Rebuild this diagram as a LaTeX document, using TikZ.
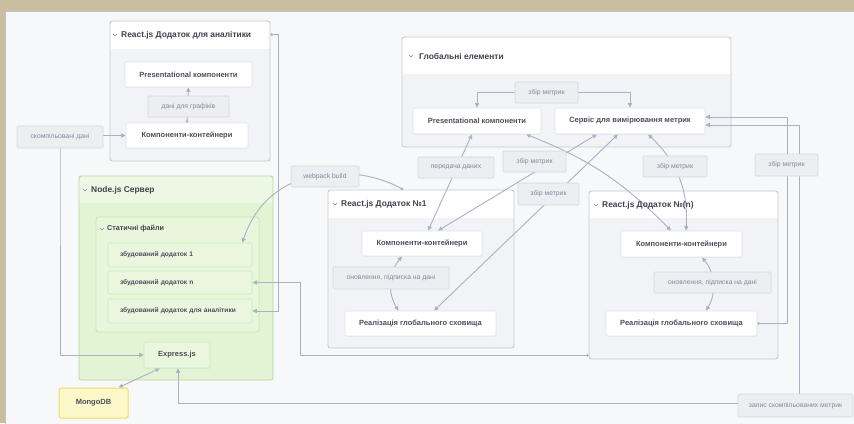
\documentclass[tikz,border=0pt]{standalone}
\usepackage{fontspec}
\setmainfont{Liberation Sans}
\usetikzlibrary{arrows.meta,fit,calc,shadows}
\definecolor{beige}{HTML}{CBBD9F}
\definecolor{panel}{HTML}{F7F8FA}
\definecolor{panelborder}{HTML}{BFC3C9}
\definecolor{grpborder}{HTML}{C5C9D0}
\definecolor{grpbody}{HTML}{F2F3F6}
\definecolor{grnborder}{HTML}{B5DB97}
\definecolor{grnbody}{HTML}{E3F4D4}
\definecolor{grnhead}{HTML}{ECF8E3}
\definecolor{grntwoborder}{HTML}{C8E5B0}
\definecolor{grntwobody}{HTML}{E8F6DC}
\definecolor{grnbox}{HTML}{EAF7DF}
\definecolor{grnboxborder}{HTML}{CFE8BB}
\definecolor{monfill}{HTML}{FDF8C9}
\definecolor{monborder}{HTML}{EEDC6E}
\definecolor{boxborder}{HTML}{E1E4E9}
\definecolor{lblfill}{HTML}{ECEEF2}
\definecolor{lblborder}{HTML}{D4D7DE}
\definecolor{lbltext}{HTML}{838998}
\definecolor{nodetext}{HTML}{4A4F5B}
\definecolor{titletext}{HTML}{3E434D}
\definecolor{edgec}{HTML}{A9B1C5}
\pgfdeclarelayer{bg}
\pgfdeclarelayer{edgelayer}
\pgfsetlayers{bg,edgelayer,main}
\tikzset{
 grpframe/.style={draw=#1, line width=0.9pt, rounded corners=2.5pt, inner sep=0pt},
 softshadow/.style={drop shadow={opacity=0.08, shadow xshift=0.4pt, shadow yshift=-0.9pt}},
 box/.style={draw=boxborder, fill=white, line width=0.6pt, rounded corners=1.5pt, inner sep=0pt, text=nodetext, font=\fontsize{7.5}{9}\selectfont\bfseries, softshadow},
 gbox/.style={draw=grnboxborder, fill=grnbox, line width=0.6pt, rounded corners=1.5pt, inner ysep=0pt, inner xsep=12pt, text width=120pt, align=left, text=nodetext, font=\fontsize{6.6}{8}\selectfont\bfseries},
 lbl/.style={draw=lblborder, fill=lblfill, line width=0.6pt, rounded corners=1pt, inner sep=0pt, text=lbltext, font=\fontsize{6.8}{8}\selectfont},
 gtitle/.style={anchor=west, inner sep=0pt, text=titletext, font=\fontsize{8.4}{10}\selectfont\bfseries},
 chevron/.style={draw=lbltext, line width=0.5pt},
 conn/.style={draw=edgec, line width=0.9pt, -{Triangle[length=4.5pt,width=4pt]}},
 both/.style={draw=edgec, line width=0.9pt, {Triangle[length=4.5pt,width=4pt]}-{Triangle[length=4.5pt,width=4pt]}},
 fromdot/.style={draw=edgec, line width=0.9pt, {Circle[length=2.6pt]}-{Triangle[length=4.5pt,width=4pt]}},
}
\newcommand\drawgrp[9]{%
 \fill[#7, rounded corners=2.5pt] (#2,#3) rectangle (#4,#5);
 \fill[#8, rounded corners=2.5pt] (#2,#3) rectangle (#4,#6+3);
 \fill[#7] (#2+0.5,#6) rectangle (#4-0.5,#6+4);
 \node[grpframe=#9, fit={(#2,#3) (#4,#5)}] (#1) {};
}
\newcommand\chev[2]{\draw[chevron] (#1-2,#2-1) -- (#1,#2+1) -- (#1+2,#2-1);}
\begin{document}
\begin{tikzpicture}[x=1pt,y=-1pt]
\useasboundingbox (0,0) rectangle (854,423);
\begin{pgfonlayer}{bg}
\fill[beige] (0,0) rectangle (854,423);
\fill[panel] (5,11) rectangle (856,425);
\draw[panelborder, line width=0.8pt] (5,425) -- (5,11) -- (856,11);
\drawgrp{ga}{110}{21}{270}{161}{49}{grpbody}{white}{grpborder}
\drawgrp{gg}{402}{37}{731}{147}{74}{grpbody}{white}{grpborder}
\drawgrp{gone}{328}{190}{514}{348}{218}{grpbody}{white}{grpborder}
\drawgrp{gnn}{589}{191}{778}{359}{218}{grpbody}{white}{grpborder}
\drawgrp{gn}{79}{176}{273}{380}{203}{grnbody}{grnhead}{grnborder}
\drawgrp{gs}{96}{217}{259}{332}{238}{grntwobody}{grntwobody}{grntwoborder}
\end{pgfonlayer}
% titles
\chev{115}{35}\node[gtitle] (tga) at (121,35) {React.js Додаток для аналітики};
\chev{85}{190}\node[gtitle] (tgn) at (91,190) {Node.js Сервер};
\chev{102}{229}\node[gtitle, font=\fontsize{7.2}{9}\selectfont\bfseries] (tgs) at (107,229) {Статичні файли};
\chev{411}{56}\node[gtitle] (tgg) at (419,56) {Глобальні елементи};
\chev{335}{204}\node[gtitle] (tgone) at (341,204) {React.js Додаток №1};
\chev{596}{205}\node[gtitle] (tgnn) at (602,205) {React.js Додаток №(n)};
% nodes
\node[box, minimum width=127pt, minimum height=25pt] (apres) at (188.5,74.5) {Presentational компоненти};
\node[lbl, minimum width=81pt, minimum height=21pt] (albl) at (188.5,106.5) {дані для графіків};
\node[box, minimum width=122pt, minimum height=25pt] (acont) at (187,135.5) {Компоненти-контейнери};
\node[lbl, minimum width=86pt, minimum height=22pt] (lcomp) at (60,137) {скомпільовані дані};
\node[gbox, minimum height=24pt] (bone) at (180,255) {збудований додаток 1};
\node[gbox, minimum height=23pt] (bn) at (180,282.5) {збудований додаток n};
\node[gbox, minimum height=24pt] (ba) at (180,311) {збудований додаток для аналітики};
\node[box, draw=grnboxborder, fill=grnbox, minimum width=66pt, minimum height=26pt] (express) at (177,355) {Express.js};
\node[box, draw=monborder, fill=monfill, line width=1pt, minimum width=69pt, minimum height=30pt] (mongo) at (93.5,403) {MongoDB};
\node[box, minimum width=128pt, minimum height=26pt] (gpres) at (477,121) {Presentational компоненти};
\node[box, minimum width=150pt, minimum height=26pt] (gserv) at (630,121) {Сервіс для вимірювання метрик};
\node[lbl, minimum width=63pt, minimum height=21pt] (ltop) at (546.5,92.5) {збір метрик};
\node[lbl, minimum width=76pt, minimum height=21pt] (lpd) at (456,167.5) {передача даних};
\node[lbl, minimum width=63pt, minimum height=21pt] (lmtwo) at (534.5,161.5) {збір метрик};
\node[lbl, minimum width=61pt, minimum height=22pt] (lmthree) at (548.5,194) {збір метрик};
\node[lbl, minimum width=64pt, minimum height=21pt] (lmfour) at (675,166.5) {збір метрик};
\node[lbl, minimum width=68pt, minimum height=21pt] (lwp) at (325,176.5) {webpack build};
\node[lbl, minimum width=63pt, minimum height=22pt] (lmfive) at (786.5,165) {збір метрик};
\node[lbl, minimum width=115pt, minimum height=23pt] (lrec) at (795.5,405.5) {запис скомпільованих метрик};
\node[box, minimum width=120pt, minimum height=25pt] (cone) at (422,243.5) {Компоненти-контейнери};
\node[lbl, minimum width=116pt, minimum height=22pt] (uone) at (391,278) {оновлення, підписка на дані};
\node[box, minimum width=151pt, minimum height=25pt] (sone) at (420.5,323.5) {Реалізація глобального сховища};
\node[box, minimum width=121pt, minimum height=26pt] (cn) at (681.5,244) {Компоненти-контейнери};
\node[lbl, minimum width=117pt, minimum height=21pt] (un) at (712.5,282.5) {оновлення, підписка на дані};
\node[box, minimum width=151pt, minimum height=25pt] (sn) at (681.5,323.5) {Реалізація глобального сховища};
% connectors
\begin{pgfonlayer}{edgelayer}
\draw[fromdot] (acont.north) -- (apres.south);
\draw[both] (acont.west) -| (lcomp.center) |- (express.west);
\draw[fromdot] ([yshift=-14pt]ga.north east) -- ++(8,0) |- (ba.east);
\draw[fromdot] ([xshift=-18pt]gone.north) .. controls (360,165) and (270,160) .. ([xshift=-10pt]bone.north east);
\draw[fromdot] ([yshift=4pt]gnn.south west) -- ++(-288,0) |- (bn.east);
\draw[both] ([xshift=-10pt]mongo.north east) -- ([xshift=-17pt]express.south);
\draw[both] ([yshift=-4pt]gserv.east) -- ++(94,0) -- ++(0,278) -| ([xshift=1pt]express.south);
\draw[fromdot] (sn.east) -- ++(30,0) |- ([yshift=4pt]gserv.east);
\draw[both] (gpres.north) |- (ltop.center) -| (gserv.north);
\draw[both] ([xshift=-5pt]gpres.south) -- ([xshift=6pt]cone.north);
\draw[both] ([xshift=-33pt]gserv.south) -- ([xshift=16pt]cone.north);
\draw[both] ([xshift=-12pt]gserv.south) -- ([xshift=13.5pt]sone.north);
\draw[both] ([xshift=49pt]gpres.south) to[bend left=12] ([xshift=-10.5pt]cn.north);
\draw[both] ([xshift=18pt]gserv.south) to[bend left=25] ([xshift=4.5pt]cn.north);
\draw[both] ([xshift=-20pt]cone.south) to[bend right=35] ([xshift=-22pt]sone.north);
\draw[both] ([xshift=20.5pt]cn.south) to[bend left=35] ([xshift=24.5pt]sn.north);
\end{pgfonlayer}
\end{tikzpicture}
\end{document}
